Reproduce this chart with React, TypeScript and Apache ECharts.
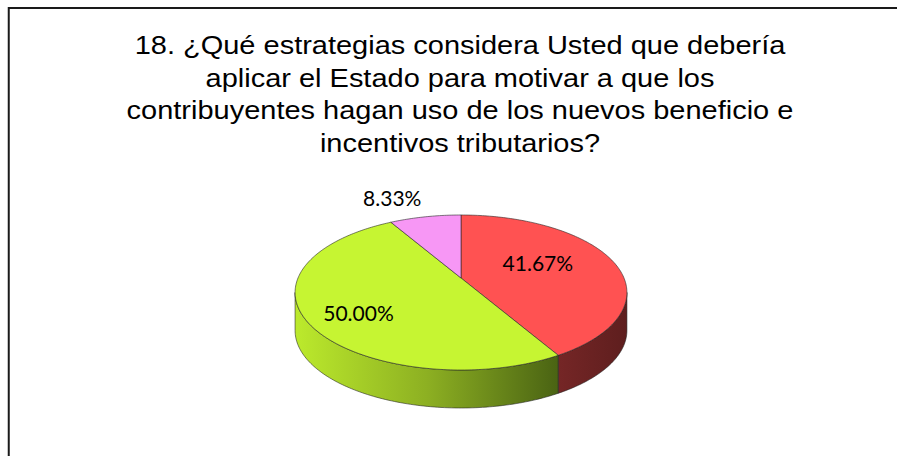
import React, { useEffect, useRef } from "react";
import * as echarts from "echarts";

// ---- Data ----
const sliceNames = ["Estrategia 1", "Estrategia 2", "Estrategia 3"];
const percentages = [41.67, 50.0, 8.33];
const titleLines = [
  "18. ¿Qué estrategias considera Usted que debería",
  "aplicar el Estado para motivar a que los",
  "contribuyentes hagan uso de los nuevos beneficio e",
  "incentivos tributarios?",
];

// ---- Styles ----
const topColors = ["#FF5252", "#C6F532", "#F797F5"];
const sideColorStops = [
  [
    { offset: 0, color: "#752626" },
    { offset: 1, color: "#5E1E1E" },
  ],
  [
    { offset: 0, color: "#BCEA2C" },
    { offset: 0.5, color: "#8DB022" },
    { offset: 1, color: "#4A6313" },
  ],
  [
    { offset: 0, color: "#C070C0" },
    { offset: 1, color: "#904090" },
  ],
];
const labelLayout = [
  { r: 0.5, dx: 0, dy: -6 },
  { r: 0.68, dx: 0, dy: 7 },
  { r: 1, dx: -33, dy: -19 },
];

// pie geometry (layout)
const CX = 461;
const CY = 278;
const RX = 163;
const RY = 74.8;
const K = 0.187; // perspective
const DEPTH = 38;

function proj(theta: number, r: number): [number, number] {
  const u = r * Math.sin(theta);
  const v = -r * Math.cos(theta);
  const s = 1 / (1 - K * v);
  return [CX + RX * u * s, CY + RY * v * s];
}

export default function App() {
  const ref = useRef<HTMLDivElement>(null);
  useEffect(() => {
    if (!ref.current) return;
    const chart = echarts.init(ref.current, null, { renderer: "svg" });
    const total = percentages.reduce((a, b) => a + b, 0);
    let cum = 0;
    const data = percentages.map((v, i) => {
      const d = { name: sliceNames[i], value: [v, cum, total] };
      cum += v;
      return d;
    });
    const visA = Math.PI / 2 + Math.asin(K);
    const visB = (3 * Math.PI) / 2 - Math.asin(K);

    const renderItem = (params: any, api: any) => {
      const i = params.dataIndex;
      const value = api.value(0);
      const start = api.value(1);
      const tot = api.value(2);
      const a0 = (start / tot) * Math.PI * 2;
      const a1 = ((start + value) / tot) * Math.PI * 2;
      const children: any[] = [];
      // side
      const s0 = Math.max(a0, visA);
      const s1 = Math.min(a1, visB);
      if (s1 > s0) {
        const n = Math.max(4, Math.ceil(((s1 - s0) * 180) / Math.PI));
        const topPts: number[][] = [];
        for (let j = 0; j <= n; j++) {
          const t = s0 + ((s1 - s0) * j) / n;
          topPts.push(proj(t, 1));
        }
        const botPts = topPts.map((p) => [p[0], p[1] + DEPTH]).reverse();
        children.push({
          type: "polygon",
          z2: 1,
          shape: { points: topPts.concat(botPts) },
          style: {
            fill: new echarts.graphic.LinearGradient(0, 0, 1, 0, sideColorStops[i]),
            stroke: "rgba(30,30,30,0.7)",
            lineWidth: 0.8,
          },
        });
      }
      // top
      const n = Math.max(4, Math.ceil(((a1 - a0) * 180) / Math.PI));
      const pts: number[][] = [[CX, CY]];
      for (let j = 0; j <= n; j++) {
        const t = a0 + ((a1 - a0) * j) / n;
        pts.push(proj(t, 1));
      }
      children.push({
        type: "polygon",
        z2: 2,
        shape: { points: pts },
        style: {
          fill: topColors[i],
          stroke: "rgba(40,40,40,0.75)",
          lineWidth: 0.8,
        },
      });
      // label
      const lay = labelLayout[i];
      const mid = (a0 + a1) / 2;
      const lp = proj(mid, lay.r);
      children.push({
        type: "text",
        z2: 3,
        x: lp[0] + lay.dx,
        y: lp[1] + lay.dy,
        style: {
          text: value.toFixed(2) + "%",
          fill: "#000",
          fontFamily: "Lato",
          fontSize: 21,
          align: "center",
          verticalAlign: "middle",
        },
      });
      return { type: "group", children };
    };

    chart.setOption({
      animation: false,
      backgroundColor: "#fff",
      graphic: [
        {
          type: "rect",
          shape: { x: 8.75, y: 8, width: 1000, height: 1000 },
          style: { fill: "none", stroke: "#1a1a1a", lineWidth: 2 },
          silent: true,
        },
        {
          type: "text",
          x: 460,
          y: 29,
          scaleX: 1.115,
          silent: true,
          style: {
            text: titleLines.join("\n"),
            fontFamily: "Liberation Sans",
            fontSize: 26,
            lineHeight: 32.5,
            fill: "#000",
            align: "center",
            verticalAlign: "top",
          },
        },
      ],
      series: [
        {
          type: "custom",
          coordinateSystem: "none",
          silent: true,
          renderItem,
          data,
        },
      ],
    });
    return () => chart.dispose();
  }, []);
  return (
    <div
      ref={ref}
      style={{ position: "absolute", left: 0, top: 0, width: 897, height: 456 }}
    />
  );
}
